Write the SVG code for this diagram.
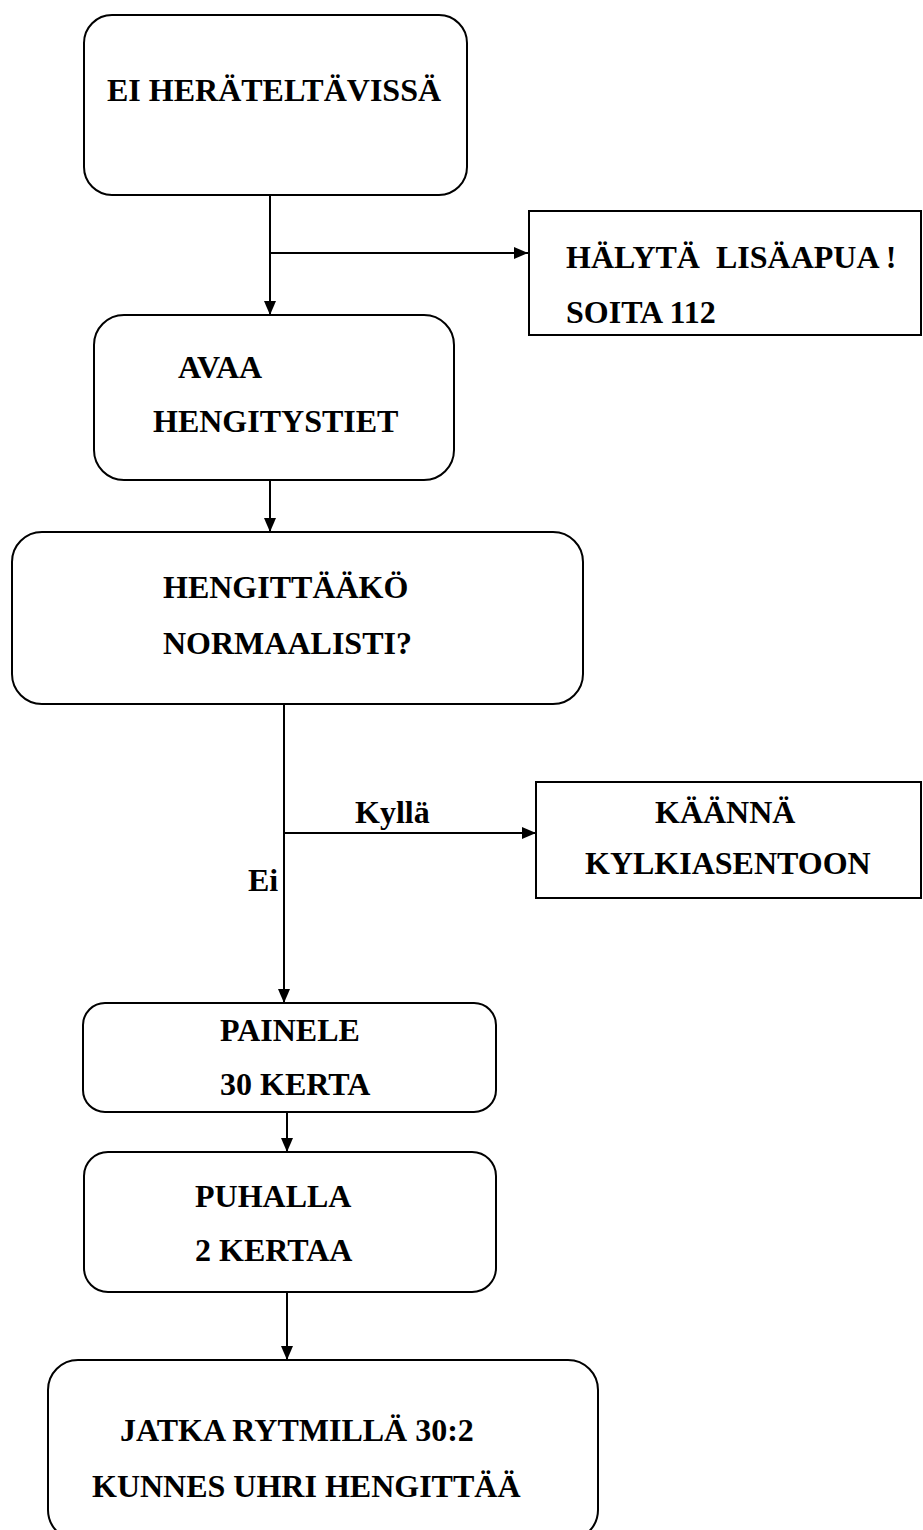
<svg xmlns="http://www.w3.org/2000/svg" width="923" height="1530" viewBox="0 0 923 1530">
<defs>
<marker id="ah" viewBox="0 0 14 12" refX="14" refY="6" markerWidth="14" markerHeight="12" markerUnits="userSpaceOnUse" orient="auto">
<path d="M0,0 L14,6 L0,12 Z" fill="#000"/>
</marker>
<style>
.box{fill:#fff;stroke:#000;stroke-width:2}
.t{font-family:"Liberation Serif","Times New Roman",serif;font-weight:bold;font-size:32px;fill:#000;white-space:pre}
.c{fill:none;stroke:#000;stroke-width:2}
</style>
</defs>
<rect width="923" height="1530" fill="#fff"/>
<g id="connectors">
<line class="c" x1="270" y1="195" x2="270" y2="315" marker-end="url(#ah)"/>
<line class="c" x1="270" y1="253" x2="528" y2="253" marker-end="url(#ah)"/>
<line class="c" x1="270" y1="480" x2="270" y2="532" marker-end="url(#ah)"/>
<line class="c" x1="284" y1="704" x2="284" y2="1003" marker-end="url(#ah)"/>
<line class="c" x1="284" y1="833" x2="536" y2="833" marker-end="url(#ah)"/>
<line class="c" x1="287" y1="1112" x2="287" y2="1152" marker-end="url(#ah)"/>
<line class="c" x1="287" y1="1292" x2="287" y2="1360" marker-end="url(#ah)"/>
</g>
<g id="n1">
<rect class="box" x="84" y="15" width="383" height="180" rx="28"/>
<text class="t" x="107" y="101">EI HERÄTELTÄVISSÄ</text>
</g>
<g id="n2">
<rect class="box" x="529" y="211" width="392" height="124"/>
<text class="t" x="566" y="268">HÄLYTÄ  LISÄAPUA !</text>
<text class="t" x="566" y="323">SOITA 112</text>
</g>
<g id="n3">
<rect class="box" x="94" y="315" width="360" height="165" rx="30"/>
<text class="t" x="178" y="378">AVAA</text>
<text class="t" x="153" y="432">HENGITYSTIET</text>
</g>
<g id="n4">
<rect class="box" x="12" y="532" width="571" height="172" rx="30"/>
<text class="t" x="163" y="598">HENGITTÄÄKÖ</text>
<text class="t" x="163" y="654">NORMAALISTI?</text>
</g>
<g id="l1">
<text class="t" x="355" y="823">Kyllä</text>
</g>
<g id="l2">
<text class="t" x="248" y="891">Ei</text>
</g>
<g id="n5">
<rect class="box" x="536" y="782" width="385" height="116"/>
<text class="t" x="655" y="823">KÄÄNNÄ</text>
<text class="t" x="585" y="874">KYLKIASENTOON</text>
</g>
<g id="n6">
<rect class="box" x="83" y="1003" width="413" height="109" rx="22"/>
<text class="t" x="220" y="1041">PAINELE</text>
<text class="t" x="220" y="1095">30 KERTA</text>
</g>
<g id="n7">
<rect class="box" x="84" y="1152" width="412" height="140" rx="24"/>
<text class="t" x="195" y="1207">PUHALLA</text>
<text class="t" x="195" y="1261">2 KERTAA</text>
</g>
<g id="n8">
<rect class="box" x="48" y="1360" width="550" height="180" rx="30"/>
<text class="t" x="120" y="1441">JATKA RYTMILLÄ 30:2</text>
<text class="t" x="92" y="1497">KUNNES UHRI HENGITTÄÄ</text>
</g>
</svg>
